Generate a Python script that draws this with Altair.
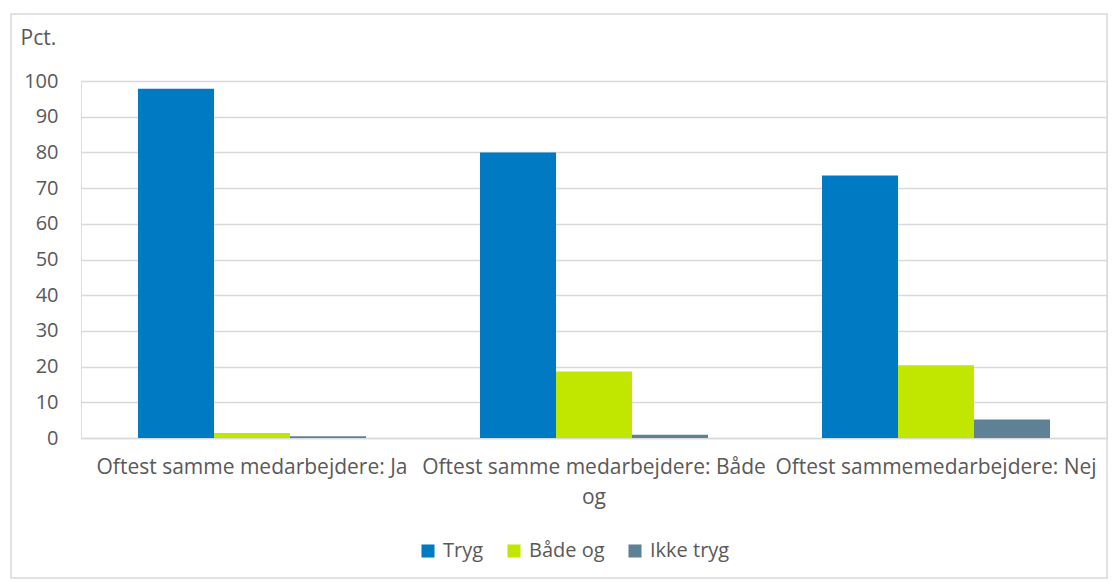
import altair as alt
import pandas as pd

categories = [
    "Oftest samme medarbejdere: Ja",
    "Oftest samme medarbejdere: Både og",
    "Oftest sammemedarbejdere: Nej",
]
series = ["Tryg", "Både og", "Ikke tryg"]
tryg = [97.8, 80.0, 73.5]
baade_og = [1.4, 18.6, 20.4]
ikke_tryg = [0.5, 0.9, 5.2]
colors = ["#007AC2", "#C1E600", "#5F8196"]
y_ticks = [0, 10, 20, 30, 40, 50, 60, 70, 80, 90, 100]

rows = []
for i, c in enumerate(categories):
    for s, vals in zip(series, [tryg, baade_og, ikke_tryg]):
        rows.append({"cat": c, "series": s, "value": vals[i]})
df = pd.DataFrame(rows)

W = 1026
H = 357
FONT = "Open Sans"
GREY = "#595959"
LINE = "#d9d9d9"

bars = alt.Chart(df).mark_bar().encode(
    x=alt.X(
        "cat:N",
        sort=categories,
        scale=alt.Scale(paddingInner=1 / 3, paddingOuter=1 / 6),
        axis=alt.Axis(
            title=None,
            labelAngle=0,
            labelFont=FONT,
            labelFontSize=21,
            labelColor=GREY,
            labelPadding=29,
            labelLimit=400,
            labelLineHeight=30,
            labelBaseline="middle",
            labelExpr="datum.value == 'Oftest samme medarbejdere: Både og' ? ['Oftest samme medarbejdere: Både', 'og'] : datum.value",
            ticks=False,
            domainColor=LINE,
            domainWidth=1.5,
            grid=False,
        ),
    ),
    xOffset=alt.XOffset("series:N", sort=series),
    y=alt.Y(
        "value:Q",
        scale=alt.Scale(domain=[0, 100], nice=False),
        axis=alt.Axis(
            values=y_ticks,
            title="Pct.",
            titleAngle=0,
            titleX=-61,
            titleY=-43,
            titleAlign="left",
            titleBaseline="middle",
            titleFont=FONT,
            titleFontSize=21,
            titleFontWeight="normal",
            titleColor=GREY,
            labelFont=FONT,
            labelFontSize=20,
            labelColor=GREY,
            labelPadding=23,
            ticks=False,
            domain=False,
            gridColor=LINE,
            gridWidth=1.5,
        ),
    ),
    color=alt.Color(
        "series:N",
        sort=series,
        scale=alt.Scale(domain=series, range=colors),
        legend=alt.Legend(
            title=None,
            orient="none",
            direction="horizontal",
            legendX=337,
            legendY=460,
            symbolType="square",
            symbolSize=170,
            symbolStrokeWidth=0,
            labelFont=FONT,
            labelFontSize=20,
            labelColor=GREY,
            labelOffset=5,
            columnPadding=20,
            symbolOffset=0,
        ),
    ),
)

border = alt.Chart(pd.DataFrame({"a": [0]})).mark_rect(
    fill=None, stroke=LINE, strokeWidth=1.5
).encode(
    x=alt.value(-70),
    x2=alt.value(W),
    y=alt.value(-67),
    y2=alt.value(H + 140),
)

chart = alt.layer(border, bars).properties(
    width=W, height=H, padding={"left": 2, "top": 5, "right": 0, "bottom": 0}
).configure_view(stroke=None).configure(background="white")

chart.save("out.html", embed_options={"renderer": "svg", "actions": False})
